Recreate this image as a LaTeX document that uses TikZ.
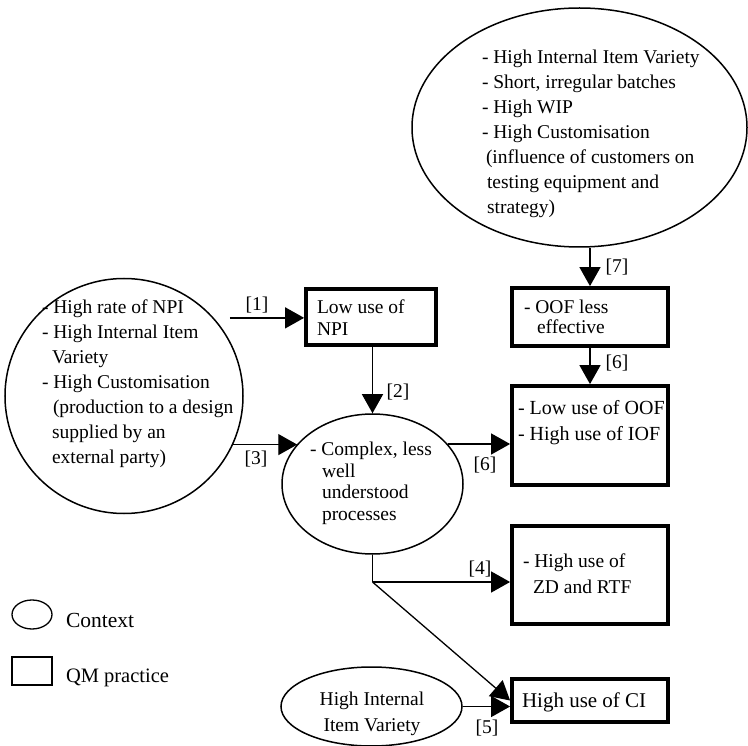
\documentclass[tikz,border=0pt]{standalone}
\usepackage{fontspec}
\setmainfont{Liberation Serif}
\usetikzlibrary{shapes.geometric,arrows.meta,calc}
\tikzset{
  ctx/.style={ellipse, draw, line width=1.5pt, inner sep=0pt},
  qm/.style={rectangle, draw, line width=3.8pt, inner sep=0pt},
  legbox/.style={rectangle, draw, line width=1.3pt, inner sep=0pt},
  arr/.style={line width=1.3pt, -{Triangle[length=19pt,width=21pt]}},
  ln/.style={line width=1.3pt},
  txt/.style={inner sep=0pt, outer sep=0pt, align=left, anchor=north west},
  lbl/.style={inner sep=0pt, outer sep=0pt},
}
\begin{document}
\begin{tikzpicture}[x=1pt,y=-1pt,font=\fontsize{19.5}{25}\selectfont]
\useasboundingbox (0,0) rectangle (748,746);

% context ellipses
\node[ctx, minimum width=335pt, minimum height=239pt] (top) at (579.5,127.5) {};
\node[ctx, minimum width=238pt, minimum height=235pt] (left) at (124,396) {};
\node[ctx, minimum width=181pt, minimum height=140pt] (cplx) at (372.5,484) {};
\node[ctx, minimum width=181pt, minimum height=79pt] (hiv) at (371.5,706.5) {};

% QM practice boxes
\node[qm, minimum width=130pt, minimum height=56pt] (npi) at (371,317) {};
\node[qm, minimum width=156pt, minimum height=58pt] (oof) at (590,317) {};
\node[qm, minimum width=156pt, minimum height=99pt] (iof) at (590,435.5) {};
\node[qm, minimum width=156pt, minimum height=98pt] (zd) at (590,575) {};
\node[qm, minimum width=156pt, minimum height=43pt] (ci) at (590,700.5) {};

% legend
\node[ctx, line width=1.3pt, minimum width=40pt, minimum height=29pt] (legc) at (32,614.5) {};
\node[legbox, minimum width=40pt, minimum height=28pt] (legq) at (32,671) {};
\node[lbl, anchor=base west, font=\fontsize{21.5}{25}\selectfont] (legctext) at (66,627) {Context};
\node[lbl, anchor=base west, font=\fontsize{20.5}{25}\selectfont] (legqtext) at (66,682) {QM practice};

% texts
\node[txt] (toptext) at (482,50) {- High Internal Item Variety\\- Short, irregular batches\\- High WIP\\- High Customisation\\\hspace*{4pt}(influence of customers on\\\hspace*{5pt}testing equipment and\\\hspace*{5pt}strategy)};
\node[txt] (lefttext) at (42,300) {- High rate of NPI\\- High Internal Item\\\hspace*{10pt}Variety\\- High Customisation\\\hspace*{11pt}(production to a design\\\hspace*{10pt}supplied by an\\\hspace*{10pt}external party)};
\node[txt, font=\fontsize{19.5}{21.5}\selectfont] (cplxtext) at (310,442) {- Complex, less\\\hspace*{12pt}well\\\hspace*{12pt}understood\\\hspace*{12pt}processes};
\node[txt, font=\fontsize{19.5}{22}\selectfont] (npitext) at (317,300) {Low use of\\NPI};
\node[txt, font=\fontsize{19.5}{20}\selectfont] (ooftext) at (524,300) {- OOF less\\\hspace*{13pt}effective};
\node[txt, font=\fontsize{20}{26}\selectfont] (ioftext) at (518,400) {- Low use of OOF\\- High use of IOF};
\node[txt, font=\fontsize{19.5}{26}\selectfont] (zdtext) at (523,554) {- High use of\\\hspace*{10pt}ZD and RTF};
\node[lbl, anchor=base west, font=\fontsize{21}{25}\selectfont] (citext) at (522,707) {High use of CI};
\node[txt, align=center, anchor=north, font=\fontsize{19.5}{26}\selectfont] (hivtext) at (372,692) {High Internal\\Item Variety};

% connectors
\draw[arr] (oof.north |- top.south) -- (oof.north);
\draw[arr] (oof.south) -- (iof.north);
\draw[arr, shorten <=16pt] (left.41) -- (left.41 -| npi.west);
\draw[arr] (cplx.north |- npi.south) -- (cplx.north);
\draw[arr] (left.-24) -- (left.-24 -| cplx.152);
\draw[arr] (cplx.28) -- (cplx.28 -| iof.west);
\coordinate (split) at (372.5,582);
\draw[ln] (cplx.south) -- (split);
\draw[arr] (split) -- (split -| zd.west);
\draw[arr] (split) -- (ci.west);
\draw[arr] (hiv.east) -- (hiv.east -| ci.west);

% connector labels
\node[lbl] (l1) at (257,305) {[1]};
\node[lbl] (l2) at (398,392) {[2]};
\node[lbl] (l3) at (256,459) {[3]};
\node[lbl] (l6a) at (485,465) {[6]};
\node[lbl] (l7) at (617,267) {[7]};
\node[lbl] (l6b) at (617,363) {[6]};
\node[lbl] (l4) at (480,569) {[4]};
\node[lbl] (l5) at (487,728) {[5]};
\end{tikzpicture}
\end{document}
